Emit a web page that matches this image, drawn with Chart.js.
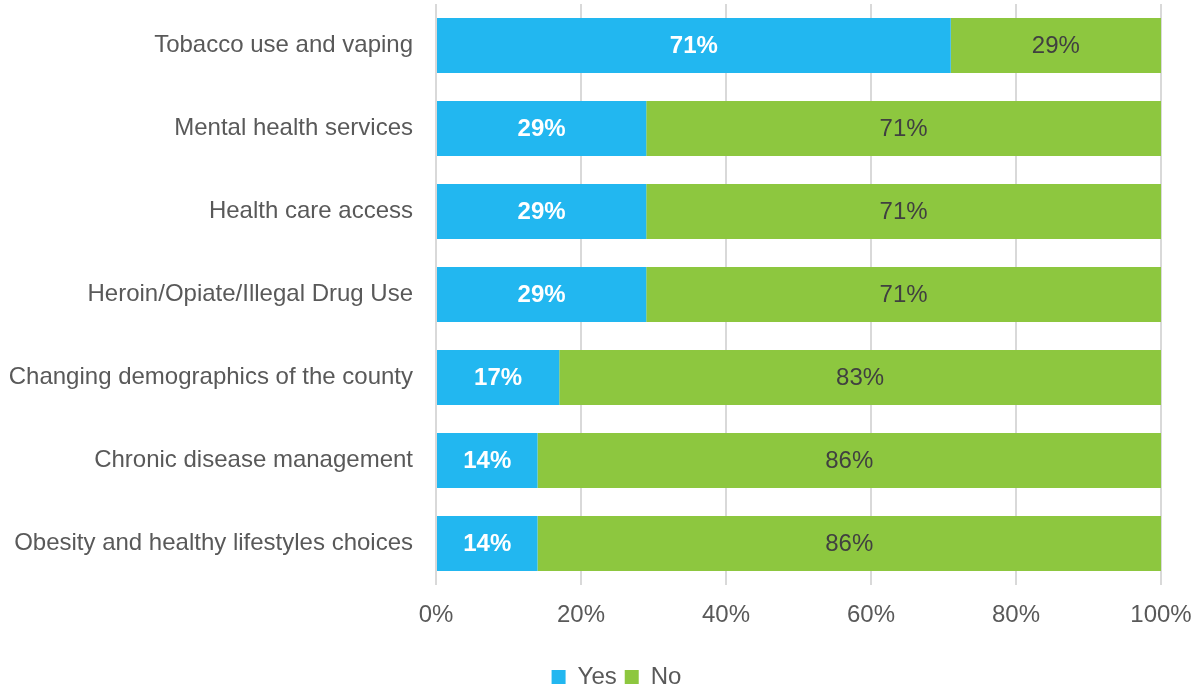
<!DOCTYPE html>
<html>
<head>
<meta charset="utf-8">
<script src="https://cdn.jsdelivr.net/npm/chart.js@4"></script>
<style>
  html, body { margin: 0; padding: 0; background: #fff; }
  #wrap { width: 1198px; height: 689px; }
</style>
</head>
<body>
<div id="wrap"><canvas id="bar-chart"></canvas></div>
<script>
// Data
const categories = [
  "Tobacco use and vaping",
  "Mental health services",
  "Health care access",
  "Heroin/Opiate/Illegal Drug Use",
  "Changing demographics of the county",
  "Chronic disease management",
  "Obesity and healthy lifestyles choices",
];
const yesValues = [71, 29, 29, 29, 17, 14, 14];
const noValues = [29, 71, 71, 71, 83, 86, 86];
const xTicks = [0, 20, 40, 60, 80, 100];

const textGrey = "#595959";
Chart.defaults.font.family = "'Liberation Sans', Arial, sans-serif";

// draws the % label in the middle of each bar piece
const barLabels = {
  id: "barLabels",
  afterLayout(chart) {
    // legend sits a bit right of the canvas centre
    chart.legend.left += 36;
    chart.legend.right += 36;
  },
  afterDatasetsDraw(chart) {
    const c = chart.ctx;
    chart.data.datasets.forEach((ds, i) => {
      const meta = chart.getDatasetMeta(i);
      meta.data.forEach((bar, j) => {
        c.save();
        c.font = (i === 0 ? "bold " : "") + "24px 'Liberation Sans', Arial, sans-serif";
        c.fillStyle = i === 0 ? "#ffffff" : "#404040";
        c.textAlign = "center";
        c.textBaseline = "middle";
        c.fillText(ds.data[j] + "%", (bar.x + bar.base) / 2, bar.y + 1);
        c.restore();
      });
    });
  },
};

const ctx = document.getElementById("bar-chart");

new Chart(ctx, {
  type: "bar",
  data: {
    labels: categories,
    datasets: [
      {
        label: "Yes",
        data: yesValues,
        backgroundColor: "#22B7F0",
        categoryPercentage: 1,
        barPercentage: 0.665,
      },
      {
        label: "No",
        data: noValues,
        backgroundColor: "#8DC73F",
        categoryPercentage: 1,
        barPercentage: 0.665,
      },
    ],
  },
  options: {
    indexAxis: "y",
    responsive: true,
    maintainAspectRatio: false,
    animation: false,
    layout: {
      padding: { left: 0, right: 37, top: 4, bottom: -10 },
    },
    scales: {
      x: {
        stacked: true,
        min: 0,
        max: 100,
        afterBuildTicks(axis) {
          axis.ticks = xTicks.map((v) => ({ value: v }));
        },
        afterFit(axis) {
          axis.height = 72;
          axis.paddingLeft = 0;
          axis.paddingRight = 0;
        },
        ticks: {
          callback: (v) => v + "%",
          color: textGrey,
          font: { size: 24 },
          padding: 16,
        },
        grid: { color: "#d9d9d9", lineWidth: 2, drawTicks: false },
        border: { display: false },
      },
      y: {
        stacked: true,
        afterFit(axis) {
          axis.width = 436;
          axis.paddingTop = 0;
          axis.paddingBottom = 0;
        },
        ticks: {
          color: textGrey,
          font: { size: 24 },
          padding: 23,
        },
        grid: { display: false, drawTicks: false },
        border: { display: false },
      },
    },
    plugins: {
      legend: {
        position: "bottom",
        labels: {
          color: textGrey,
          font: { size: 24 },
          boxWidth: 14,
          boxHeight: 14,
          padding: 8,
        },
      },
      tooltip: { enabled: false },
    },
  },
  plugins: [barLabels],
});
</script>
</body>
</html>
